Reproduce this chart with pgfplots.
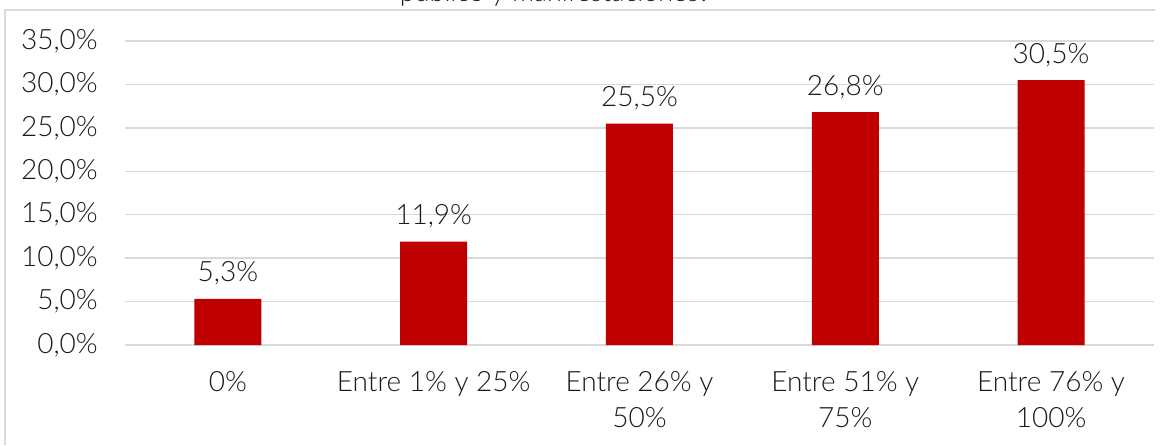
\documentclass[border=0pt]{standalone}
\usepackage{pgfplots}
\pgfplotsset{compat=1.18}
\usepackage{fontspec}
\setmainfont{Lato}[UprightFont={* Light}]
\definecolor{barred}{HTML}{C00000}
\definecolor{gridgray}{HTML}{D9D9D9}
\definecolor{txt}{HTML}{1A1A1A}
\newcommand{\bigfont}{\fontsize{28}{36}\selectfont}
\begin{document}
\begin{tikzpicture}[font=\bigfont]
\path[use as bounding box] (0,0) rectangle (1171pt,445pt);
\clip (0,0) rectangle (1171pt,445pt);
\node[anchor=base, text=txt, inner sep=0, font=\fontsize{27}{32}\selectfont] at (555pt,443.5pt) {público y manifestaciones?};
\draw[gridgray, line width=1.5pt] (5pt,0) -- (5pt,435pt) -- (1155pt,435pt);
\begin{axis}[
  at={(125pt,100pt)}, anchor=south west,
  scale only axis, width=1029pt, height=304pt,
  xmin=-0.5, xmax=4.5, ymin=0, ymax=35,
  ytick={0,5,...,35},
  xtick={0,1,2,3,4},
  font=\bigfont,
  tick label style={font=\bigfont},
  xticklabels={0\%, Entre 1\% y 25\%, {Entre 26\% y\\50\%}, {Entre 51\% y\\75\%}, {Entre 76\% y\\100\%}},
  xticklabel style={align=center, anchor=north, inner sep=0pt, yshift=-26pt, text=txt},
  yticklabel={\pgfmathprintnumber[fixed,fixed zerofill,precision=1,use comma]{\tick}\%},
  yticklabel style={anchor=east, inner sep=0pt, xshift=-27pt, text=txt},
  /pgf/number format/assume math mode=true,
  axis line style={draw=none},
  major tick length=0pt,
  ymajorgrids, major grid style={gridgray, line width=1.5pt},
  ybar, bar width=67pt,
  nodes near coords={\pgfmathprintnumber[fixed,fixed zerofill,precision=1,use comma]{\pgfplotspointmeta}\%},
  nodes near coords style={anchor=base, inner sep=0pt, yshift=17pt, text=txt, font=\bigfont},
  clip=false,
]
\addplot[fill=barred, draw=none] coordinates {(0,5.3) (1,11.9) (2,25.5) (3,26.8) (4,30.5)};
\end{axis}
\end{tikzpicture}
\end{document}
